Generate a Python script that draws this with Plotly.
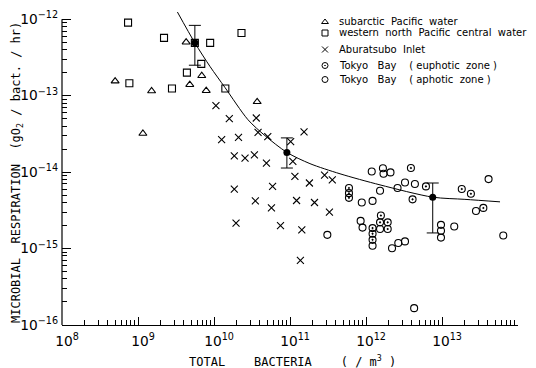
import plotly.graph_objects as go

# ---- data ------------------------------------------------------------
# subarctic Pacific water
sub_x = [5.0e8, 1.16e9, 1.51e9, 4.3e9, 4.8e9, 6.9e9, 7.9e9, 3.7e10]
sub_y = [1.55e-13, 3.2e-14, 1.15e-13, 5.0e-13, 1.39e-13, 1.82e-13, 1.16e-13, 8.3e-14]

# western north Pacific central water
wnp_x = [7.4e8, 7.7e8, 2.2e9, 2.8e9, 4.4e9, 5.6e9, 6.8e9, 8.9e9, 1.41e10, 2.3e10]
wnp_y = [9.0e-13, 1.45e-13, 5.7e-13, 1.24e-13, 2.0e-13, 4.9e-13, 2.6e-13, 4.9e-13, 1.24e-13, 6.6e-13]

# Aburatsubo Inlet
abu_x = [1.06e10, 1.59e10, 3.6e10, 3.8e10, 5.1e10, 1.26e10, 2.1e10, 1.53e11, 1.02e11,
         1.09e11, 1.85e10, 2.56e10, 3.4e10, 4.9e10, 1.16e11, 1.8e11, 2.85e11, 3.6e11,
         1.85e10, 5.9e10, 3.5e10, 5.7e10, 1.22e11, 2.1e11, 3.3e11, 1.95e10, 7.5e10,
         1.43e11, 1.37e11]
abu_y = [7.4e-14, 5.0e-14, 5.1e-14, 3.3e-14, 2.9e-14, 2.65e-14, 2.85e-14, 3.35e-14, 2.5e-14,
         1.38e-14, 1.63e-14, 1.52e-14, 1.68e-14, 1.31e-14, 8.8e-15, 7.2e-15, 9.1e-15, 7.9e-15,
         6.0e-15, 6.5e-15, 4.2e-15, 3.4e-15, 4.25e-15, 4.0e-15, 3.0e-15, 2.15e-15, 2.0e-15,
         1.76e-15, 7.0e-16]

# Tokyo Bay (euphotic zone)
eup_x = [5.97e11, 5.97e11, 5.97e11, 3.9e12, 6.15e12, 4.1e12, 1.82e13, 2.4e13, 3.5e13,
         1.57e12, 1.53e12, 1.93e12, 1.93e12, 1.22e12, 1.22e12, 1.22e12]
eup_y = [6.2e-15, 5.3e-15, 4.6e-15, 1.13e-14, 6.5e-15, 4.4e-15, 6.0e-15, 5.2e-15, 3.4e-15,
         2.7e-15, 2.2e-15, 2.2e-15, 1.8e-15, 1.85e-15, 1.56e-15, 1.3e-15]

# Tokyo Bay (aphotic zone)
aph_x = [3.1e11, 8.8e11, 1.22e12, 1.19e12, 1.67e12, 1.7e12, 2.1e12, 1.53e12, 2.6e12,
         3.26e12, 4.4e12, 4.1e13, 2.8e13, 6.4e13, 8.5e11, 9.0e11, 1.53e12, 1.22e12,
         2.2e12, 2.66e12, 3.26e12, 9.7e12, 9.7e12, 9.7e12, 1.45e13, 4.3e12]
aph_y = [1.51e-15, 4.0e-15, 4.2e-15, 1.02e-14, 1.12e-14, 9.5e-15, 9.9e-15, 5.7e-15, 6.2e-15,
         7.3e-15, 7.0e-15, 8.1e-15, 3.1e-15, 1.48e-15, 2.3e-15, 1.88e-15, 1.8e-15, 1.09e-15,
         1.01e-15, 1.18e-15, 1.24e-15, 2.04e-15, 1.71e-15, 1.39e-15, 1.94e-15, 1.66e-16]

# group means with their ranges
mean_x = [5.6e9, 9.1e10, 7.55e12]
mean_y = [4.9e-13, 1.81e-14, 4.7e-15]
range_hi = [8.3e-13, 2.8e-14, 7.2e-15]
range_lo = [2.5e-13, 1.13e-14, 1.6e-15]

# fitted curve
fit_x = [3.3e9, 5.6e9, 8.9e9, 1.4e10, 2.8e10, 4.7e10, 9.1e10, 1.83e11, 4.55e11,
         1.53e12, 7.55e12, 2.0e13, 5.8e13]
fit_y = [1.24e-12, 4.9e-13, 2.39e-13, 1.27e-13, 4.84e-14, 2.99e-14, 1.81e-14, 1.29e-14,
         9.5e-15, 6.8e-15, 4.7e-15, 4.4e-15, 4.08e-15]

legend_labels = [
    "subarctic\u00a0 Pacific\u00a0 water",
    "western\u00a0 north\u00a0 Pacific\u00a0 central\u00a0 water",
    "Aburatsubo\u00a0 Inlet",
    "Tokyo\u00a0\u00a0 Bay\u00a0\u00a0\u00a0 ( euphotic\u00a0 zone )",
    "Tokyo\u00a0\u00a0 Bay\u00a0\u00a0\u00a0 ( aphotic\u00a0 zone )",
]
legend_symbols = ["triangle-up-open", "square-open", "x-thin-open", "circle-open-dot", "circle-open"]

# ---- geometry (pixels) ------------------------------------------------
W, H = 536, 368
L, R, T, B = 62, 518, 10, 325
Y_RANGE = [-16, -11.88]

def px_to_paper(px, py):
    return (px - L) / (R - L), (B - py) / (B - T)

INK = "black"
mk = dict(size=7, color=INK, line=dict(color=INK, width=1.1))

fig = go.Figure()

fig.add_trace(go.Scatter(x=fit_x, y=fit_y, mode="lines",
                         line=dict(color=INK, width=1, shape="spline", smoothing=0.8),
                         hoverinfo="skip"))

series = [
    (sub_x, sub_y, "triangle-up-open"),
    (wnp_x, wnp_y, "square-open"),
    (abu_x, abu_y, "x-thin-open"),
    (eup_x, eup_y, "circle-open-dot"),
    (aph_x, aph_y, "circle-open"),
]
for xs, ys, sym in series:
    fig.add_trace(go.Scatter(x=xs, y=ys, mode="markers",
                             marker=dict(symbol=sym, **mk)))

fig.add_trace(go.Scatter(
    x=mean_x, y=mean_y, mode="markers",
    marker=dict(symbol="circle", size=7, color=INK),
    error_y=dict(type="data", symmetric=False,
                 array=[h - m for h, m in zip(range_hi, mean_y)],
                 arrayminus=[m - l for m, l in zip(mean_y, range_lo)],
                 color=INK, thickness=1, width=6),
))

# legend keys on an overlay axis in paper-like units
leg_rows = [22, 33, 49.5, 65.5, 79.5]
key_px, text_px = 325, 337
kx, ky = [], []
for py in leg_rows:
    px_, py_ = px_to_paper(key_px, py)
    kx.append(px_)
    ky.append(py_)
fig.add_trace(go.Scatter(x=kx, y=ky, mode="markers", xaxis="x2", yaxis="y2",
                         marker=dict(symbol=legend_symbols, size=6, color=INK,
                                     line=dict(color=INK, width=1)),
                         cliponaxis=False))

annotations = []
for lab, py in zip(legend_labels, leg_rows):
    ax_, ay_ = px_to_paper(text_px, py)
    annotations.append(dict(x=ax_, y=ay_, xref="paper", yref="paper", text=lab,
                            showarrow=False, xanchor="left", yanchor="middle",
                            font=dict(family="DejaVu Sans", size=10, color=INK)))

tx, ty = px_to_paper(292, 361)
annotations.append(dict(
    x=tx, y=ty, xref="paper", yref="paper", showarrow=False,
    xanchor="center", yanchor="middle",
    text="TOTAL\u00a0\u00a0\u00a0 BACTERIA\u00a0\u00a0\u00a0 ( / m<sup>3</sup> )",
    font=dict(family="DejaVu Sans Mono", size=12, color=INK)))
yx, yy = px_to_paper(17, 173)
annotations.append(dict(
    x=yx, y=yy, xref="paper", yref="paper", showarrow=False, textangle=-90,
    xanchor="center", yanchor="middle",
    text="MICROBIAL\u00a0 RESPIRATION\u00a0 (gO<sub>2</sub> / bact. / hr)",
    font=dict(family="DejaVu Sans Mono", size=12, color=INK)))

y_top = (-12 - Y_RANGE[0]) / (Y_RANGE[1] - Y_RANGE[0])

fig.update_layout(
    width=W, height=H,
    margin=dict(l=L, r=W - R, t=T, b=H - B, pad=0),
    paper_bgcolor="white", plot_bgcolor="white",
    showlegend=False,
    font=dict(family="DejaVu Sans", size=11, color=INK),
    annotations=annotations,
    shapes=[dict(type="line", xref="paper", yref="paper", x0=0, x1=0, y0=0, y1=y_top,
                 line=dict(color=INK, width=1.2))],
    xaxis=dict(type="log", range=[8, 14], dtick=1, exponentformat="power",
               showgrid=False, zeroline=False, showline=True, linecolor=INK, linewidth=1.2,
               ticks="inside", ticklen=8, tickwidth=1, tickcolor=INK,
               ticklabelshift=5, ticklabelstandoff=4,
               minor=dict(ticks="inside", ticklen=5, tickwidth=1, tickcolor=INK,
                          dtick="D1", showgrid=False),
               tickfont=dict(family="DejaVu Sans", size=11, color=INK)),
    yaxis=dict(type="log", range=Y_RANGE, dtick=1, exponentformat="power",
               showgrid=False, zeroline=False, showline=False,
               ticks="inside", ticklen=9, tickwidth=1, tickcolor=INK,
               ticklabelstandoff=3,
               minor=dict(ticks="inside", ticklen=5, tickwidth=1, tickcolor=INK,
                          dtick="D1", showgrid=False),
               tickfont=dict(family="DejaVu Sans", size=11, color=INK)),
    xaxis2=dict(overlaying="x", range=[0, 1], visible=False, fixedrange=True),
    yaxis2=dict(overlaying="y", range=[0, 1], visible=False, fixedrange=True),
)

fig.write_html("out.html")
